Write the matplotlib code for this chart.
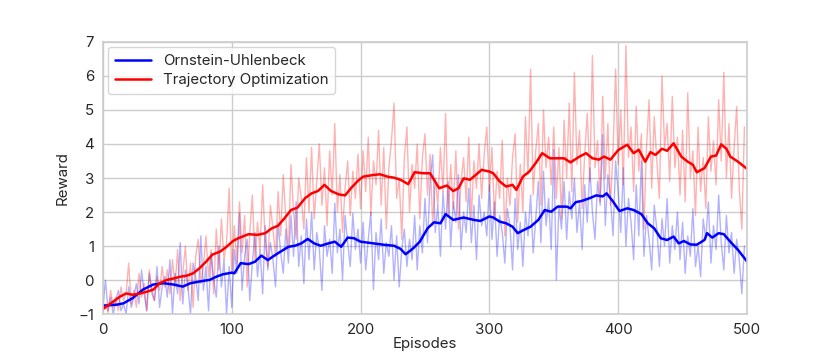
import numpy as np
import matplotlib
matplotlib.use("Agg")
import matplotlib.pyplot as plt
import seaborn as sns

# ---------------- data ----------------
raw_episodes = list(range(0, 500, 2))

to_raw = [
    -0.9, -0.7, -0.95, -0.3, -0.8, -0.5, -0.9, -0.2, -0.6, -0.4, 0.5, -0.7, -0.3, -0.8, 0.2, -0.5, -0.1, -0.9, 0.3, -0.4, -0.6, 0.1, -0.3, 0.4, -0.2,
    0.3, -0.4, 0.6, -0.2, 0.9, -0.6, 0.2, 1.0, -0.3, 0.5, -0.8, 0.7, 1.2, -0.1, 0.4, 1.3, 0.1, 0.9, -0.4, 1.5, 0.3, 1.8, 0.6, 1.1, 2.7,
    0.2, 1.6, 0.5, 2.3, 0.8, 1.9, -0.2, 1.4, 2.5, 0.6, 1.7, 0.9, 2.8, 1.1, 0.4, 2.2, 1.5, 0.7, 2.6, 1.3, 3.1, 1.8, 0.9, 3.4, 2.0,
    1.2, 3.0, 2.4, 1.5, 3.6, 2.0, 3.9, 1.8, 2.9, 4.0, 2.2, 3.3, 1.6, 3.8, 2.5, 4.6, 2.0, 3.1, 1.4, 2.7, 3.5, 1.9, 3.2, 2.4, 3.7,
    2.1, 3.8, 2.6, 4.2, 1.9, 3.5, 2.8, 4.4, 2.2, 3.9, 1.5, 3.3, 4.1, 5.2, 2.4, 3.0, 1.2, 3.6, 4.5, 2.0, 3.4, 2.7, 4.0, 1.8, 3.6,
    4.3, 2.5, 3.7, 1.6, 3.0, 2.2, 3.9, 2.6, 4.9, 1.9, 3.4, 2.1, 3.8, 1.5, 2.9, 3.6, 2.3, 4.2, 1.8, 3.5, 2.7, 4.0, 2.4, 3.7, 4.5,
    2.6, 3.9, 1.8, 3.2, 2.4, 4.1, 1.3, 3.0, 2.2, 3.6, 4.3, 1.7, 3.4, 2.0, 4.8, 3.1, 6.2, 2.5, 3.8, 4.6, 2.2, 5.0, 3.3, 4.2, 2.8,
    4.5, 2.4, 3.9, 1.8, 4.7, 3.0, 5.2, 2.6, 6.1, 3.4, 4.4, 2.1, 3.7, 4.9, 2.9, 6.6, 3.3, 4.1, 2.3, 5.4, 3.0, 4.6, 2.2, 3.8, 6.2,
    3.4, 5.0, 2.8, 6.9, 3.6, 4.5, 2.6, 5.1, 3.2, 4.3, 1.5, 3.9, 5.3, 2.7, 4.8, 3.5, 2.4, 6.0, 3.9, 4.6, 2.9, 5.4, 3.3, 4.2, 2.5,
    4.4, 2.3, 5.5, 3.0, 3.8, 1.9, 4.5, 2.6, 3.6, 2.1, 4.8, 3.2, 4.1, 2.8, 5.3, 3.5, 6.1, 3.0, 4.6, 2.4, 3.9, 5.1, 2.7, 1.5, 4.5,
]

ou_raw = [
    -0.8, 0.0, -0.9, -0.5, -1.0, -0.6, -0.3, -0.9, -0.7, -1.0, -0.2, -0.8, -0.5, -0.1, -0.7, 0.3, -0.4, -0.9, 0.2, -0.3, -0.6, 0.4, -0.8, -0.2, 0.1,
    -0.5, 0.6, -1.0, 0.2, -0.4, 1.1, -0.7, 0.3, -0.2, -1.0, 0.5, 0.1, -0.6, 1.3, -0.3, 0.4, -0.9, 0.8, 0.0, -0.5, 1.0, -0.2, 0.6, -1.0, 0.4,
    -0.8, 0.9, 0.2, 1.96, -0.3, 0.7, 1.2, -0.6, 0.5, 1.4, 0.1, 0.9, -0.4, 1.6, 0.3, 1.1, 0.6, -0.2, 1.7, 0.8, 0.2, 1.5, 0.5, 1.9, 0.7,
    2.3, 0.4, 1.3, -0.1, 1.8, 0.6, 2.0, 0.3, 1.4, 0.9, -0.3, 1.6, 0.7, 1.2, 0.2, 2.26, 0.8, 1.5, 0.0, 1.9, 1.1, 0.4, 1.96, 0.9, 1.5,
    0.5, 1.7, 0.3, 1.2, 2.0, -0.28, 1.4, 0.6, 1.8, 0.2, 1.1, 0.7, 1.6, 0.0, 1.3, -0.2, 0.9, 1.5, 0.4, 1.2, 0.6, 1.9, 0.3, 1.6, 0.8,
    2.4, 1.1, 2.9, 3.68, 1.4, 2.2, 0.7, 2.6, 1.5, 2.9, 1.0, 2.3, 1.7, 3.1, 0.9, 2.0, 1.4, 2.7, 1.1, 2.2, 0.6, 2.5, 1.6, 2.0, 1.3,
    2.8, 1.2, 2.3, 0.7, 1.9, 1.4, 0.5, 2.1, 1.6, 0.3, 2.4, 0.9, 1.7, 0.4, 2.0, 1.3, 2.5, 0.8, 1.8, 2.9, 1.1, 3.2, 1.6, 2.4, 0.9,
    3.84, 0.0, 2.2, 1.5, 2.9, 1.2, 2.6, 1.8, 3.0, 1.4, 2.3, 0.9, 2.8, 1.7, 3.3, 2.0, 1.2, 2.9, 2.2, 4.28, 1.6, 3.1, 2.4, 1.3, 3.5,
    2.6, 1.4, 3.3, 1.0, 2.4, 1.7, 0.6, 2.8, 1.3, 3.5, 0.7, 1.9, 1.2, 0.3, 2.2, 1.5, 0.4, 1.8, 1.0, 2.4, 0.5, 1.6, 0.9, 2.0, 0.6,
    1.7, 0.2, 1.3, 0.7, 2.1, 0.4, 1.0, 0.1, 1.8, 1.2, 2.3, 0.5, 1.6, 0.9, 2.5, 1.1, 0.3, 1.9, 0.8, 1.4, 0.2, 1.2, 0.6, -0.4, 1.0,
]

to_smooth_ep = [0, 8, 13, 18, 23, 29, 34, 39, 44, 50, 55, 60, 65, 70, 75, 80, 85, 91, 96, 101,
                105, 113, 120, 126, 131, 136, 141, 146, 151, 157, 162, 167, 172, 177, 183, 188, 193, 198,
                202, 210, 215, 221, 226, 231, 237, 242, 249, 254, 261, 267, 272, 276, 280, 285, 290, 294,
                300, 303, 308, 313, 318, 321, 326, 331, 336, 341, 347, 352, 358, 363, 370, 375, 380, 385,
                389, 394, 400, 407, 412, 416, 421, 425, 429, 434, 438, 443, 449, 454, 458, 461, 467, 472,
                476, 480, 484, 487, 493, 500]
to_smooth = [-0.85, -0.63, -0.49, -0.39, -0.43, -0.39, -0.34, -0.28, -0.09, 0.01, 0.05, 0.10, 0.13, 0.20, 0.35, 0.54, 0.75, 0.84, 0.98, 1.15,
             1.23, 1.35, 1.33, 1.38, 1.52, 1.60, 1.82, 2.06, 2.13, 2.41, 2.55, 2.62, 2.80, 2.62, 2.52, 2.49, 2.72, 2.92,
             3.04, 3.09, 3.11, 3.04, 3.01, 2.95, 2.82, 3.17, 3.14, 3.14, 2.70, 2.78, 2.62, 2.70, 2.99, 2.95, 3.11, 3.24,
             3.19, 3.14, 2.90, 2.75, 2.80, 2.65, 3.04, 3.19, 3.44, 3.73, 3.58, 3.58, 3.58, 3.46, 3.63, 3.73, 3.58, 3.54,
             3.63, 3.54, 3.82, 3.98, 3.73, 3.83, 3.48, 3.76, 3.68, 3.86, 3.80, 4.02, 3.63, 3.48, 3.39, 3.17, 3.29, 3.63,
             3.66, 3.99, 3.86, 3.63, 3.48, 3.27]

ou_smooth_ep = [0, 11, 16, 23, 31, 39, 47, 55, 62, 68, 75, 83, 88, 93, 100,
                102, 107, 113, 118, 123, 128, 133, 138, 144, 149, 154, 159, 164, 169, 175, 180, 185, 190, 195,
                200, 210, 218, 226, 231, 235, 241, 246, 252, 257, 262, 266, 272, 280, 288, 293,
                300, 303, 308, 313, 318, 322, 327, 332, 338, 343, 348, 353, 360, 363, 367, 372, 378, 383, 388, 391,
                396, 401, 407, 412, 418, 423, 428, 433, 438, 443, 447, 451, 456, 461, 467, 469, 473, 478, 482,
                487, 493, 500]
ou_smooth = [-0.75, -0.72, -0.68, -0.53, -0.28, -0.13, -0.09, -0.13, -0.19, -0.09, -0.04, 0.01, 0.10, 0.17, 0.22,
             0.20, 0.50, 0.47, 0.54, 0.72, 0.59, 0.72, 0.84, 0.98, 1.01, 1.08, 1.21, 1.08, 1.01, 1.08, 1.13, 0.98, 1.25, 1.23,
             1.13, 1.08, 1.04, 1.01, 0.92, 0.76, 0.94, 1.13, 1.52, 1.70, 1.67, 1.94, 1.77, 1.84, 1.77, 1.74,
             1.87, 1.84, 1.72, 1.67, 1.57, 1.38, 1.48, 1.57, 1.77, 2.06, 2.01, 2.16, 2.16, 2.11, 2.29, 2.33, 2.41, 2.49, 2.46, 2.55,
             2.31, 2.03, 2.11, 2.06, 1.94, 1.67, 1.52, 1.23, 1.18, 1.28, 1.08, 1.15, 1.05, 1.04, 1.18, 1.38, 1.25, 1.38, 1.35,
             1.13, 0.89, 0.55]

x_ticks = [0, 100, 200, 300, 400, 500]
y_ticks = [-1, 0, 1, 2, 3, 4, 5, 6, 7]
labels = ["Ornstein-Uhlenbeck", "Trajectory Optimization"]

# ---------------- plotting ----------------
sns.set_style("whitegrid")
plt.rcParams['font.family'] = ['Inter', 'DejaVu Sans']

fig = plt.figure(figsize=(8.3, 3.55), dpi=100)
ax = fig.add_axes([0.124, 0.115, 0.776, 0.767])

ax.plot(raw_episodes, ou_raw, color="blue", alpha=0.3, lw=1.0)
ax.plot(raw_episodes, to_raw, color="red", alpha=0.3, lw=1.0)
ax.plot(ou_smooth_ep, ou_smooth, color="blue", lw=1.8, label=labels[0])
ax.plot(to_smooth_ep, to_smooth, color="red", lw=1.8, label=labels[1])

ax.set_xlim(0, 500)
ax.set_ylim(-1, 7)
ax.set_xticks(x_ticks)
ax.set_yticks(y_ticks)
ax.set_xlabel("Episodes", fontsize=10.8, labelpad=0)
ax.set_ylabel("Reward", fontsize=10.8, labelpad=6)
ax.tick_params(labelsize=10.8, colors="#262626", pad=3)
ax.grid(color="#cccccc", lw=1)
for s in ax.spines.values():
    s.set_color("#cccccc")
    s.set_linewidth(1.2)

ax.legend(loc="upper left", fontsize=10.8, frameon=True, edgecolor="#cccccc",
          handlelength=2.4, borderpad=0.45, labelspacing=0.35, borderaxespad=0.35)

fig.savefig("out.png", dpi=100)
